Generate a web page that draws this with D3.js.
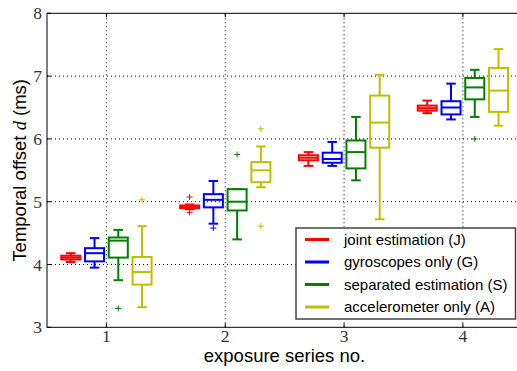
<!DOCTYPE html>
<html>
<head>
<meta charset="utf-8">
<script src="https://cdn.jsdelivr.net/npm/d3@7"></script>
<style>
    body { margin: 0; background: #fff; }
    svg { display: block; }
    .tick-label { font-family: 'Liberation Serif', 'DejaVu Serif', serif; font-size: 17.5px; fill: #333; }
    .axis-title { font-family: 'Liberation Sans', Arial, sans-serif; font-size: 18.5px; fill: #000; }
    .legend-text { font-family: 'Liberation Sans', Arial, sans-serif; font-size: 15px; fill: #000; }
</style>
</head>
<body>
<div id="chart"></div>
<script>
const seriesNames = ['joint estimation (J)', 'gyroscopes only (G)', 'separated estimation (S)', 'accelerometer only (A)'];
const seriesColors = ['#ff0000', '#0000ff', '#008000', '#bfbf00'];
const exposureSeries = [1, 2, 3, 4];
const xTicks = [1, 2, 3, 4];
const yTicks = [3, 4, 5, 6, 7, 8];

// [whisker low, q1, median, q3, whisker high] per exposure series
const jointStats = [
    [4.04, 4.08, 4.11, 4.14, 4.18],
    [4.88, 4.895, 4.915, 4.94, 4.955],
    [5.57, 5.66, 5.70, 5.74, 5.79],
    [6.41, 6.45, 6.49, 6.53, 6.61],
];
const gyroStats = [
    [3.95, 4.05, 4.18, 4.26, 4.42],
    [4.65, 4.91, 5.03, 5.12, 5.33],
    [5.57, 5.62, 5.68, 5.78, 5.95],
    [6.31, 6.39, 6.50, 6.60, 6.88],
];
const separatedStats = [
    [3.75, 4.11, 4.38, 4.43, 4.55],
    [4.40, 4.86, 5.00, 5.20, 5.20],
    [5.34, 5.53, 5.79, 5.975, 6.35],
    [6.35, 6.63, 6.82, 6.97, 7.10],
];
const accelStats = [
    [3.32, 3.68, 3.88, 4.12, 4.61],
    [5.23, 5.31, 5.50, 5.63, 5.88],
    [4.72, 5.86, 6.26, 6.69, 7.02],
    [6.21, 6.43, 6.77, 7.13, 7.43],
];

// outliers per exposure series
const jointOutliers = [[], [5.075, 4.83], [], []];
const gyroOutliers = [[], [4.58], [], []];
const separatedOutliers = [[3.30], [5.75], [], [6.00]];
const accelOutliers = [[5.03], [6.16, 4.61], [], []];

const allStats = [jointStats, gyroStats, separatedStats, accelStats];
const allOutliers = [jointOutliers, gyroOutliers, separatedOutliers, accelOutliers];
const seriesOffsets = [-0.3, -0.1, 0.1, 0.3];

const width = 517, height = 371;
const margin = { left: 47, top: 13.3, bottom: 44 };
const plotRight = 522.3;
const plotBottom = height - margin.bottom + 0.3;

const svg = d3.select('#chart').append('svg')
    .attr('width', width)
    .attr('height', height);

const x = d3.scaleLinear().domain([0.5, 4.5]).range([margin.left, plotRight]);
const y = d3.scaleLinear().domain([3, 8]).range([plotBottom, margin.top]);

// grid
const grid = svg.append('g').attr('class', 'grid');
grid.selectAll('.vgrid')
    .data(xTicks)
    .enter()
    .append('line')
    .attr('x1', d => x(d)).attr('x2', d => x(d))
    .attr('y1', y(3)).attr('y2', y(8))
    .attr('stroke', '#000').attr('stroke-width', 1)
    .attr('stroke-dasharray', '1,3');
grid.selectAll('.hgrid')
    .data(yTicks.slice(1, -1))
    .enter()
    .append('line')
    .attr('x1', x(0.5)).attr('x2', x(4.5))
    .attr('y1', d => y(d)).attr('y2', d => y(d))
    .attr('stroke', '#000').attr('stroke-width', 1)
    .attr('stroke-dasharray', '1,3');

// boxes
const boxW = 0.16;
const capW = 0.08;
allStats.forEach((stats, si) => {
    const color = seriesColors[si];
    const g = svg.append('g').attr('class', 'series-' + si)
        .attr('stroke', color).attr('fill', 'none').attr('stroke-width', 2);

    stats.forEach((s, gi) => {
        const cx = exposureSeries[gi] + seriesOffsets[si];
        const [lo, q1, med, q3, hi] = s;
        // whiskers
        g.append('line')
            .attr('x1', x(cx)).attr('x2', x(cx))
            .attr('y1', y(q3)).attr('y2', y(hi));
        g.append('line')
            .attr('x1', x(cx)).attr('x2', x(cx))
            .attr('y1', y(q1)).attr('y2', y(lo));
        // caps
        [lo, hi].forEach(v => {
            g.append('line')
                .attr('x1', x(cx - capW / 2)).attr('x2', x(cx + capW / 2))
                .attr('y1', y(v)).attr('y2', y(v));
        });
        // box
        g.append('rect')
            .attr('x', x(cx - boxW / 2))
            .attr('y', y(q3))
            .attr('width', x(cx + boxW / 2) - x(cx - boxW / 2))
            .attr('height', y(q1) - y(q3));
        // median
        g.append('line')
            .attr('x1', x(cx - boxW / 2)).attr('x2', x(cx + boxW / 2))
            .attr('y1', y(med)).attr('y2', y(med));
        // outliers
        allOutliers[si][gi].forEach(v => {
            g.append('path')
                .attr('d', `M${x(cx) - 3},${y(v)}h6M${x(cx)},${y(v) - 3}v6`)
                .attr('stroke-width', 1);
        });
    });
});

// frame
svg.append('rect')
    .attr('x', x(0.5)).attr('y', y(8))
    .attr('width', x(4.5) - x(0.5)).attr('height', y(3) - y(8))
    .attr('fill', 'none').attr('stroke', '#000').attr('stroke-width', 1);

// ticks
svg.selectAll('.xtick')
    .data(xTicks)
    .enter()
    .append('line')
    .attr('x1', d => x(d)).attr('x2', d => x(d))
    .attr('y1', y(3)).attr('y2', y(3) - 4)
    .attr('stroke', '#000');
svg.selectAll('.xtick-top')
    .data(xTicks)
    .enter()
    .append('line')
    .attr('x1', d => x(d)).attr('x2', d => x(d))
    .attr('y1', y(8)).attr('y2', y(8) + 4)
    .attr('stroke', '#000');
svg.selectAll('.ytick')
    .data(yTicks)
    .enter()
    .append('line')
    .attr('x1', x(0.5)).attr('x2', x(0.5) + 4)
    .attr('y1', d => y(d)).attr('y2', d => y(d))
    .attr('stroke', '#000');

svg.selectAll('.xlabel')
    .data(xTicks)
    .enter()
    .append('text')
    .attr('class', 'tick-label')
    .attr('x', d => x(d))
    .attr('y', 342)
    .attr('text-anchor', 'middle')
    .text(d => d);
svg.selectAll('.ylabel')
    .data(yTicks)
    .enter()
    .append('text')
    .attr('class', 'tick-label')
    .attr('x', 42)
    .attr('y', d => y(d) + 6)
    .attr('text-anchor', 'end')
    .text(d => d);

// axis titles
svg.append('text')
    .attr('class', 'axis-title')
    .attr('x', 284.5)
    .attr('y', 362)
    .attr('text-anchor', 'middle')
    .text('exposure series no.');

const yTitle = svg.append('text')
    .attr('class', 'axis-title')
    .attr('transform', `translate(26, ${(y(3) + y(8)) / 2}) rotate(-90)`)
    .attr('text-anchor', 'middle');
yTitle.append('tspan').text('Temporal offset ');
yTitle.append('tspan')
    .attr('font-family', "'Liberation Serif', serif")
    .attr('font-style', 'italic')
    .text('d');
yTitle.append('tspan').text(' (ms)');

// legend
const legend = svg.append('g').attr('class', 'legend');
legend.append('rect')
    .attr('x', 296).attr('y', 228)
    .attr('width', 219.5).attr('height', 91)
    .attr('fill', '#fff').attr('stroke', '#444').attr('stroke-width', 1.5);
const entries = legend.selectAll('.entry')
    .data(seriesNames)
    .enter()
    .append('g')
    .attr('transform', (d, i) => `translate(0, ${239.5 + i * 22.5})`);
entries.append('line')
    .attr('x1', 305).attr('x2', 329)
    .attr('y1', 0).attr('y2', 0)
    .attr('stroke', (d, i) => seriesColors[i])
    .attr('stroke-width', 3);
entries.append('text')
    .attr('class', 'legend-text')
    .attr('x', 344)
    .attr('y', 5)
    .text(d => d);
</script>
</body>
</html>
